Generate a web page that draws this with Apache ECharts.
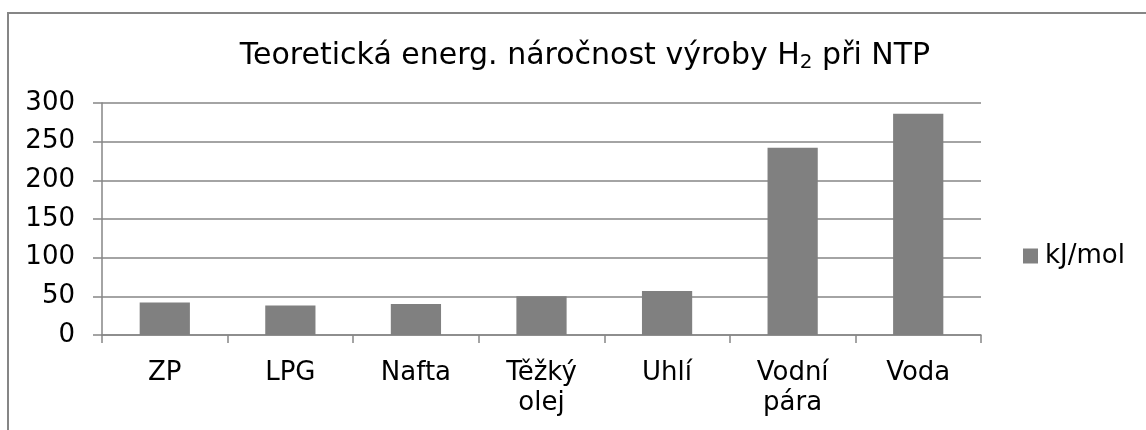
<!DOCTYPE html>
<html>
<head>
<meta charset="utf-8">
<script src="https://cdn.jsdelivr.net/npm/echarts@6/dist/echarts.min.js"></script>
<style>
html,body{margin:0;padding:0;background:#fff;}
#chart{width:1146px;height:430px;}
</style>
</head>
<body>
<div id="chart"></div>
<script>
const categories = ['ZP', 'LPG', 'Nafta', 'Těžký\nolej', 'Uhlí', 'Vodní\npára', 'Voda'];
const seriesName = 'kJ/mol';
const values = [42, 38, 40, 50, 57, 242, 286];
const yTicks = { min: 0, max: 300, interval: 50 };

const FONT = 'DejaVu Sans';
const GRAY = '#868686';
const chart = echarts.init(document.getElementById('chart'));
chart.setOption({
  animation: false,
  backgroundColor: '#fff',
  graphic: [{
    type: 'rect',
    shape: { x: 8, y: 13, width: 1300, height: 600 },
    style: { fill: null, stroke: GRAY, lineWidth: 2 },
    silent: true, z: -1
  }],
  title: {
    text: 'Teoretická energ. náročnost výroby H{sub|2} při NTP',
    left: 580, top: 34, textAlign: 'center',
    textStyle: {
      fontFamily: FONT, fontSize: 30, fontWeight: 'normal', color: '#000',
      rich: { sub: { fontFamily: FONT, fontSize: 20, color: '#000', verticalAlign: 'bottom', padding: [14, 0, 0, 0] } }
    }
  },
  legend: {
    data: [seriesName],
    left: 1018, top: 238,
    orient: 'vertical',
    icon: 'rect', itemWidth: 15, itemHeight: 15, itemGap: 10,
    textStyle: { fontFamily: FONT, fontSize: 26, color: '#000', padding: [0, 0, 0, 2] }
  },
  grid: { left: 102, right: 165, top: 103, bottom: 95, containLabel: false },
  xAxis: {
    type: 'category',
    data: categories,
    axisLine: { lineStyle: { color: GRAY, width: 1.5 } },
    axisTick: { show: true, length: 8, lineStyle: { color: GRAY, width: 1.5 } },
    axisLabel: { fontFamily: FONT, fontSize: 26, color: '#000', margin: 23, lineHeight: 30, interval: 0 }
  },
  yAxis: {
    type: 'value',
    min: yTicks.min, max: yTicks.max, interval: yTicks.interval,
    axisLine: { show: true, lineStyle: { color: GRAY, width: 1.5 } },
    axisTick: { show: true, length: 9, lineStyle: { color: GRAY, width: 1.5 } },
    splitLine: { show: true, lineStyle: { color: GRAY, width: 1.5 } },
    axisLabel: { fontFamily: FONT, fontSize: 26, color: '#000', margin: 27 }
  },
  series: [{
    name: seriesName,
    type: 'bar',
    data: values,
    barCategoryGap: '60%',
    itemStyle: { color: '#808080' }
  }]
});
</script>
</body>
</html>
